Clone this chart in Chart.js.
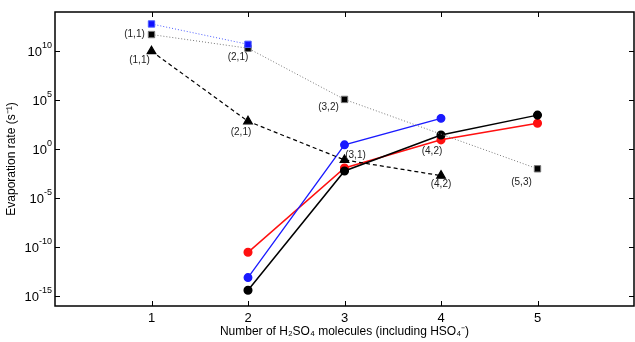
<!DOCTYPE html>
<html>
<head>
<meta charset="utf-8">
<script src="https://cdn.jsdelivr.net/npm/chart.js@4/dist/chart.umd.min.js"></script>
<style>
  html, body { margin: 0; padding: 0; background: #fff; }
  #wrap { width: 635px; height: 342px; }
</style>
</head>
<body>
<div id="wrap"><canvas id="evapChart" width="635" height="342"></canvas></div>
<script>
// Evaporation rates vs number of H2SO4 molecules (log scale)

const xTicks = [1, 2, 3, 4, 5];
const yTickExps = [-15, -10, -5, 0, 5, 10];

// squares, blue dotted
const blueSqX = [1, 2];
const blueSqY = [6e12, 5e10];
// squares, grey dotted
const blackSqX = [1, 2, 3, 5];
const blackSqY = [5e11, 2e10, 1.2e5, 1e-2];
// triangles, dashed
const triX = [1, 2, 3, 4];
const triY = [1e10, 7e2, 8e-2, 2e-3];
// circles
const blueCircX = [2, 3, 4];
const blueCircY = [8e-14, 2.8, 1.4e3];
const redCircX = [2, 3, 4, 5];
const redCircY = [3e-11, 1.2e-2, 9, 4.5e2];
const blackCircX = [2, 3, 4, 5];
const blackCircY = [4e-15, 6e-3, 2.8e1, 3e3];

function pts(xs, ys) {
    return xs.map((x, i) => ({ x: x, y: ys[i] }));
}

// text labels attached to points: [datasetIndex, pointIndex, text, dx, dy]
const pointLabels = [
    [1, 0, '(1,1)', -17, 0],
    [1, 1, '(2,1)', -10, 9],
    [1, 2, '(3,2)', -16, 8],
    [1, 3, '(5,3)', -16, 13],
    [2, 0, '(1,1)', -12, 9],
    [2, 1, '(2,1)', -7, 11],
    [2, 2, '(3,1)', 11, -5],
    [2, 3, '(4,2)', 0, 9],
    [4, 2, '(4,2)', -9, 16]
];

const FONT = '"Liberation Sans", Arial, sans-serif';

const framePlugin = {
    id: 'frame',
    afterDraw(chart) {
        const ctx = chart.ctx;
        const a = chart.chartArea;
        const xs = chart.scales.x, ys = chart.scales.y;
        ctx.save();
        ctx.strokeStyle = '#000';
        ctx.lineWidth = 1.5;
        ctx.strokeRect(a.left, a.top, a.right - a.left, a.bottom - a.top);

        // inward tick marks
        ctx.lineWidth = 1;
        ctx.beginPath();
        xTicks.forEach(v => {
            const px = Math.round(xs.getPixelForValue(v)) + 0.5;
            ctx.moveTo(px, a.bottom); ctx.lineTo(px, a.bottom - 5);
            ctx.moveTo(px, a.top); ctx.lineTo(px, a.top + 5);
        });
        yTickExps.forEach(e => {
            const py = Math.round(ys.getPixelForValue(Math.pow(10, e))) + 0.5;
            ctx.moveTo(a.left, py); ctx.lineTo(a.left + 5, py);
            ctx.moveTo(a.right, py); ctx.lineTo(a.right - 5, py);
        });
        ctx.stroke();

        // x tick labels
        ctx.fillStyle = '#000';
        ctx.font = '13px ' + FONT;
        ctx.textAlign = 'center';
        ctx.textBaseline = 'middle';
        xTicks.forEach(v => {
            ctx.fillText(String(v), xs.getPixelForValue(v), a.bottom + 12);
        });

        // y tick labels 10^n
        yTickExps.forEach(e => {
            const py = ys.getPixelForValue(Math.pow(10, e));
            const sup = String(e);
            ctx.font = '9px ' + FONT;
            const sw = ctx.measureText(sup).width;
            ctx.textAlign = 'left';
            ctx.fillText(sup, a.left - 3 - sw, py - 6);
            ctx.font = '13px ' + FONT;
            ctx.textAlign = 'right';
            ctx.fillText('10', a.left - 3 - sw, py + 1);
        });

        // x axis title
        ctx.font = '12px ' + FONT;
        ctx.textAlign = 'center';
        ctx.fillText('Number of H\u2082SO\u2084 molecules (including HSO\u2084\u207B)', (a.left + a.right) / 2, a.bottom + 26);

        // y axis title
        ctx.save();
        ctx.translate(12, (a.top + a.bottom) / 2);
        ctx.rotate(-Math.PI / 2);
        ctx.fillText('Evaporation rate (s\u207B\u00B9)', 0, 0);
        ctx.restore();

        // point labels
        ctx.font = '10px ' + FONT;
        ctx.fillStyle = '#222';
        ctx.textAlign = 'center';
        pointLabels.forEach(([d, i, t, dx, dy]) => {
            const el = chart.getDatasetMeta(d).data[i];
            if (el) ctx.fillText(t, el.x + dx, el.y + dy);
        });
        ctx.restore();
    }
};

new Chart(document.getElementById('evapChart'), {
    type: 'line',
    data: {
        datasets: [
            {
                label: 'blue squares',
                data: pts(blueSqX, blueSqY),
                borderColor: '#4a5cff',
                backgroundColor: '#1010ff',
                borderWidth: 1,
                borderDash: [1, 2],
                pointStyle: 'rect',
                pointRadius: 4.5
            },
            {
                label: 'black squares',
                data: pts(blackSqX, blackSqY),
                borderColor: '#777',
                backgroundColor: '#000',
                borderWidth: 1,
                borderDash: [1, 2],
                pointStyle: 'rect',
                pointRadius: 4.5
            },
            {
                label: 'triangles',
                data: pts(triX, triY),
                borderColor: '#000',
                backgroundColor: '#000',
                borderWidth: 1.2,
                borderDash: [4, 3],
                pointStyle: 'triangle',
                pointRadius: 5
            },
            {
                label: 'blue circles',
                data: pts(blueCircX, blueCircY),
                borderColor: '#1a1aff',
                backgroundColor: '#1a1aff',
                borderWidth: 1.3,
                pointRadius: 3.8
            },
            {
                label: 'black circles',
                data: pts(blackCircX, blackCircY),
                borderColor: '#000',
                backgroundColor: '#000',
                borderWidth: 1.5,
                pointRadius: 3.8
            },
            {
                label: 'red circles',
                data: pts(redCircX, redCircY),
                borderColor: '#ff1010',
                backgroundColor: '#ff1010',
                borderWidth: 1.5,
                pointRadius: 3.8
            }
        ]
    },
    options: {
        responsive: false,
        animation: false,
        layout: { autoPadding: false, padding: { left: 0, top: 12, right: 1, bottom: 0 } },
        plugins: {
            legend: { display: false },
            tooltip: { enabled: false }
        },
        elements: {
            line: { tension: 0 },
            point: { borderWidth: 0 }
        },
        scales: {
            x: {
                type: 'linear',
                min: 0,
                max: 6,
                grid: { display: false, drawTicks: false },
                border: { display: false },
                ticks: { display: false },
                afterFit: s => { s.height = 36; }
            },
            y: {
                type: 'logarithmic',
                min: 1e-16,
                max: 1e14,
                grid: { display: false, drawTicks: false },
                border: { display: false },
                ticks: { display: false },
                afterFit: s => { s.width = 55; }
            }
        }
    },
    plugins: [framePlugin]
});
</script>
</body>
</html>
